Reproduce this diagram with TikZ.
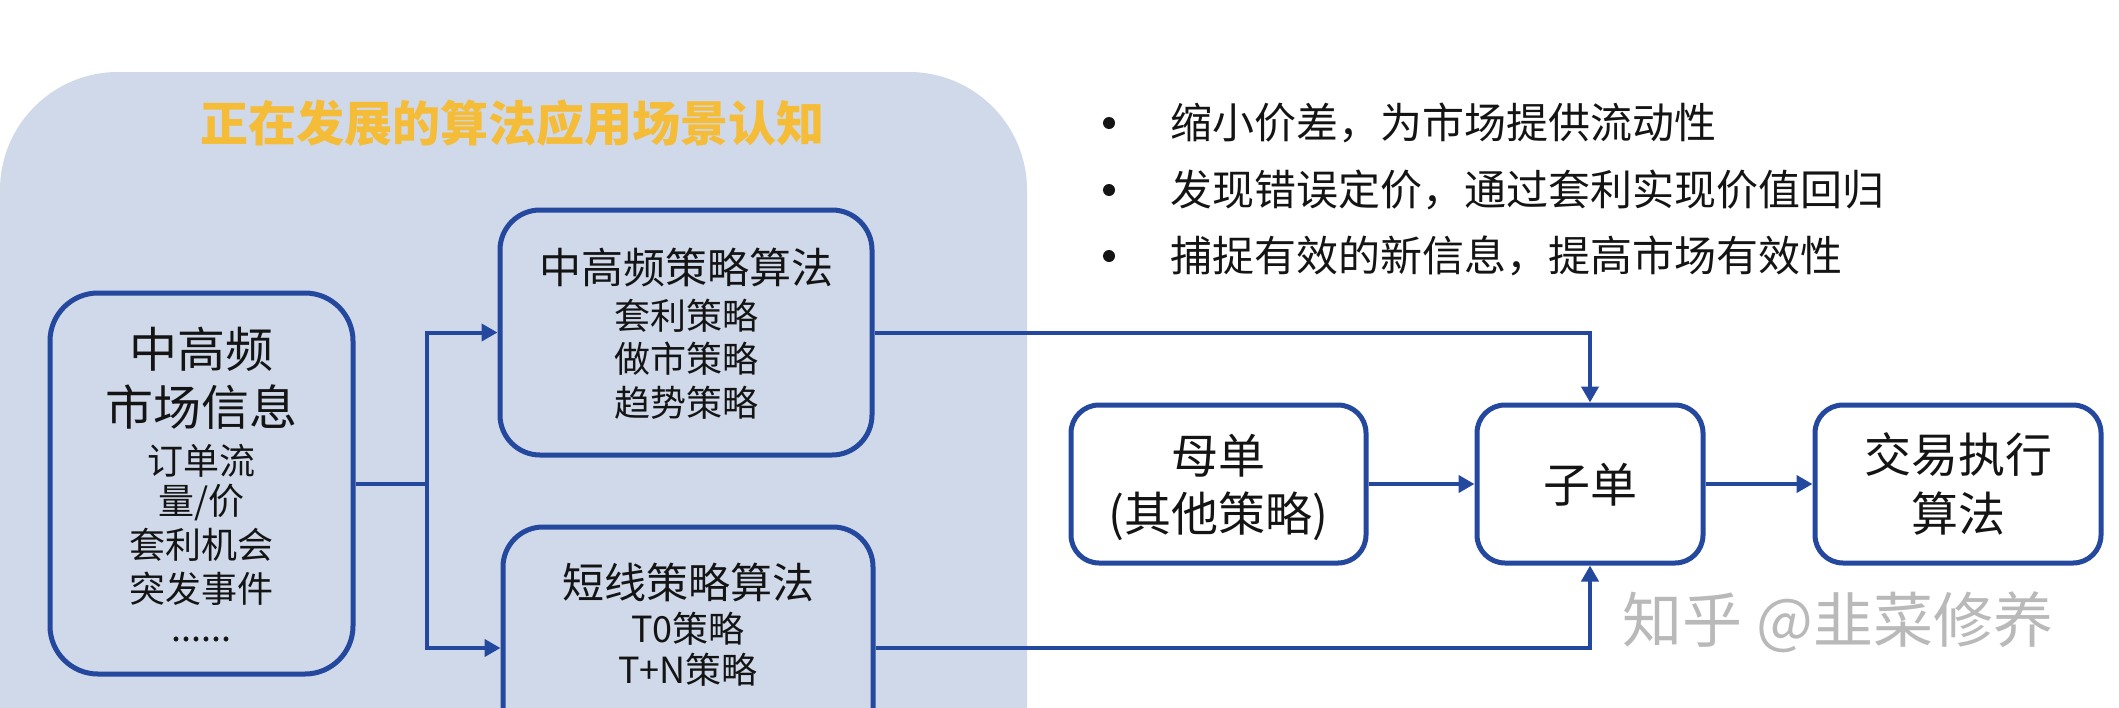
\documentclass[tikz,border=0pt]{standalone}
\usepackage{fontspec}
\setmainfont{Noto Sans CJK SC}
\usetikzlibrary{arrows.meta}
\definecolor{bgblue}{RGB}{208,217,233}
\definecolor{boxblue}{RGB}{36,72,158}
\definecolor{gold}{RGB}{245,188,55}
\definecolor{txt}{RGB}{20,20,20}
\definecolor{wm}{RGB}{185,185,185}
\tikzset{
  box/.style={draw=boxblue, line width=2.5pt, fill=white, inner sep=0pt},
  lbox/.style={box, fill=bgblue, rounded corners=22pt},
  rbox/.style={box, rounded corners=14pt, minimum height=79pt},
  conn/.style={draw=boxblue, line width=2pt},
  arr/.style={conn, -{Triangle[length=8pt,width=8.5pt]}},
  txtnode/.style={inner sep=0pt, text=txt, anchor=center},
  big/.style={txtnode, font=\fontsize{24}{28}\selectfont},
  mid/.style={txtnode, font=\fontsize{21}{25}\selectfont},
  small/.style={txtnode, font=\fontsize{18}{22}\selectfont},
  rtext/.style={txtnode, font=\fontsize{23.5}{28}\selectfont},
  bullettext/.style={inner sep=0pt, text=txt, anchor=west, font=\fontsize{21}{25}\selectfont},
}
\begin{document}
\begin{tikzpicture}[x=0.5pt,y=-0.5pt]
\useasboundingbox (0,0) rectangle (2119,707);
\clip (0,0) rectangle (2119,707);
% background panel
\fill[bgblue, rounded corners=59pt] (0,72) rectangle (1027,950);
\node[inner sep=0pt, text=gold, font=\fontsize{24}{28}\selectfont\bfseries] (title) at (512,123) {正在发展的算法应用场景认知};

% boxes
\node[lbox, rounded corners=24pt, minimum width=151.5pt, minimum height=190.5pt] (L) at (201.5,483.5) {};
\node[lbox, rounded corners=20pt, minimum width=186pt, minimum height=122.5pt] (A) at (686,332.5) {};
\node[lbox, rounded corners=20pt, minimum width=185pt, minimum height=121pt] (B) at (688,648) {};
\node[rbox, minimum width=147.5pt] (M) at (1218.5,484) {};
\node[rbox, minimum width=113pt] (Z) at (1590,484) {};
\node[rbox, minimum width=143pt] (J) at (1958,484) {};

% left box text
\node[big] (l1) at (201.5,349) {中高频};
\node[big] (l2) at (201.5,407) {市场信息};
\node[small] (l3) at (201.5,461) {订单流};
\node[small] (l4) at (201.5,503) {量/价};
\node[small] (l5) at (201.5,545) {套利机会};
\node[small] (l6) at (201.5,589) {突发事件};
\node[small] (l7) at (201.5,639) {......};

% top middle box text
\node[mid] (a1) at (686,267) {中高频策略算法};
\node[small] (a2) at (686,316) {套利策略};
\node[small] (a3) at (686,359) {做市策略};
\node[small] (a4) at (686,403) {趋势策略};

% bottom middle box text
\node[mid] (b1) at (688,582) {短线策略算法};
\node[small] (b2) at (688,629) {T0策略};
\node[small] (b3) at (688,670) {T+N策略};

% right boxes text
\node[rtext] (m1) at (1218.5,456) {母单};
\node[rtext] (m2) at (1218.5,516) {(其他策略)};
\node[rtext] (z1) at (1590,485) {子单};
\node[rtext] (j1) at (1958,455) {交易执行};
\node[rtext] (j2) at (1958,514) {算法};

% bullets
\foreach \yy/\nm/\tx in {123/p1/缩小价差，为市场提供流动性, 190/p2/发现错误定价，通过套利实现价值回归, 256/p3/捕捉有效的新信息，提高市场有效性}{
  \fill[txt] (1109,\yy) circle (3pt);
  \node[bullettext] (\nm) at (1170,\yy) {\tx};
}

% watermark
\node[inner sep=0pt, text=wm, font=\fontsize{30}{34}\selectfont] (wmk) at (1838,622) {知乎 @韭菜修养};

% connectors
\coordinate (jn) at (427,483.5);
\draw[conn] (L.east) -- (jn);
\draw[arr] (jn) |- (A.west);
\draw[arr] (jn) |- (B.west);
\draw[arr] (A.east) -| (Z.north);
\draw[arr] (B.east) -| (Z.south);
\draw[arr] (M.east) -- (Z.west);
\draw[arr] (Z.east) -- (J.west);
\end{tikzpicture}
\end{document}
